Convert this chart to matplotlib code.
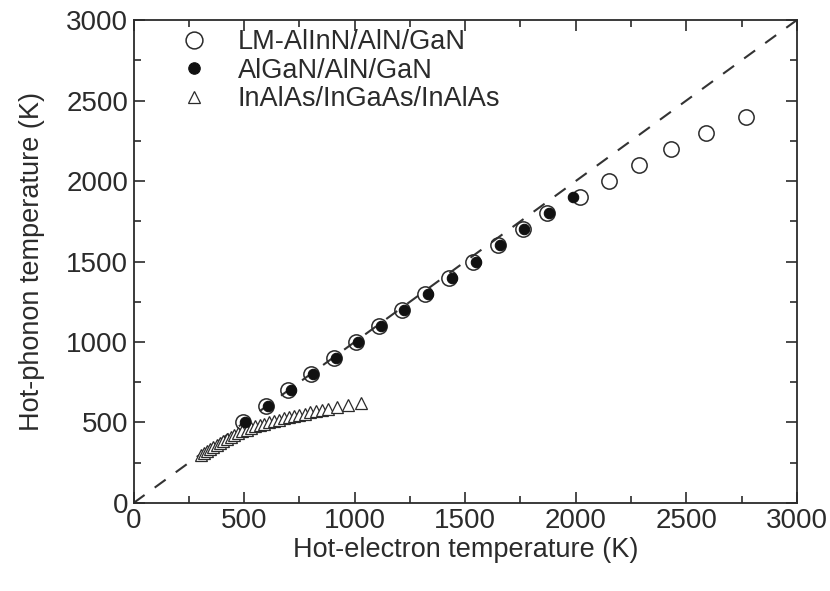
#!/usr/bin/env python3
"""
Hot-phonon temperature versus hot-electron temperature for three
heterostructures, with the Tph = Te reference line.
"""

import matplotlib
matplotlib.use('Agg')
import matplotlib.pyplot as plt
from matplotlib.ticker import MultipleLocator

plt.rcParams['font.family'] = ['Liberation Sans', 'DejaVu Sans']

# LM-AlInN/AlN/GaN (open circles)
alinn_te = [495, 598, 700, 803, 905, 1008, 1110, 1213, 1320, 1428, 1537,
            1648, 1760, 1872, 2020, 2150, 2285, 2430, 2588, 2770]
alinn_tph = [500, 600, 700, 800, 900, 1000, 1100, 1200, 1300, 1400, 1500,
             1600, 1700, 1800, 1900, 2000, 2100, 2200, 2300, 2400]

# AlGaN/AlN/GaN (filled circles)
algan_te = [505, 608, 710, 812, 915, 1015, 1118, 1222, 1330, 1438, 1548,
            1658, 1768, 1878, 1988]
algan_tph = [500, 600, 700, 800, 900, 1000, 1100, 1200, 1300, 1400, 1500,
             1600, 1700, 1800, 1900]

# InAlAs/InGaAs/InAlAs (open triangles)
inalas_te = [305, 318, 332, 346, 360, 375, 390, 406, 422, 439, 456, 474,
             492, 511, 530, 550, 570, 591, 612, 634, 656, 679, 702, 726,
             750, 775, 800, 826, 852, 878, 920, 970, 1030]
inalas_tph = [300, 312, 324, 336, 348, 360, 372, 385, 397, 409, 421, 433,
              445, 456, 466, 476, 485, 493, 501, 509, 517, 525, 533, 541,
              548, 555, 562, 569, 576, 583, 594, 606, 620]

# reference line Tph = Te
ref = [0, 3000]

dark = '#2b2b2b'


def main():
    fig = plt.figure(figsize=(8.3, 5.91), dpi=100)
    ax = fig.add_axes([0.161, 0.149, 0.799, 0.817])

    ax.plot(ref, ref, color='#333333', lw=1.5, ls=(0, (6.5, 6)), zorder=1)

    ax.plot(alinn_te, alinn_tph, ls='none', marker='o', ms=11, mfc='none',
            mec=dark, mew=1.1, label='LM-AlInN/AlN/GaN', zorder=2)
    ax.plot(algan_te, algan_tph, ls='none', marker='o', ms=7.5, mfc='#111111',
            mec='#111111', mew=0.8, label='AlGaN/AlN/GaN', zorder=3)
    ax.plot(inalas_te, inalas_tph, ls='none', marker='^', ms=8.5, mfc='white',
            mec=dark, mew=0.9, label='InAlAs/InGaAs/InAlAs', zorder=2)

    ax.set_xlim(0, 3000)
    ax.set_ylim(0, 3000)
    ax.xaxis.set_major_locator(MultipleLocator(500))
    ax.yaxis.set_major_locator(MultipleLocator(500))
    ax.xaxis.set_minor_locator(MultipleLocator(250))
    ax.yaxis.set_minor_locator(MultipleLocator(250))
    ax.tick_params(which='both', direction='in', top=True, right=True,
                   color=dark, width=1.2, labelsize=20, labelcolor=dark, pad=4)
    ax.tick_params(which='major', length=8)
    ax.tick_params(which='minor', length=5)
    for sp in ax.spines.values():
        sp.set_color(dark)
        sp.set_linewidth(1.3)

    ax.set_xlabel('Hot-electron temperature (K)', fontsize=19.5, color=dark,
                  labelpad=2)
    ax.set_ylabel('Hot-phonon temperature (K)', fontsize=19.5, color=dark,
                  labelpad=15)

    leg = ax.legend(loc='upper left', bbox_to_anchor=(0.055, 1.004),
                    frameon=False, fontsize=19.5, handlelength=1.0,
                    handletextpad=1.1, labelspacing=0.1, borderaxespad=0,
                    markerscale=1.1)
    for t in leg.get_texts():
        t.set_color(dark)

    fig.savefig('out.png', dpi=100)


if __name__ == '__main__':
    main()
